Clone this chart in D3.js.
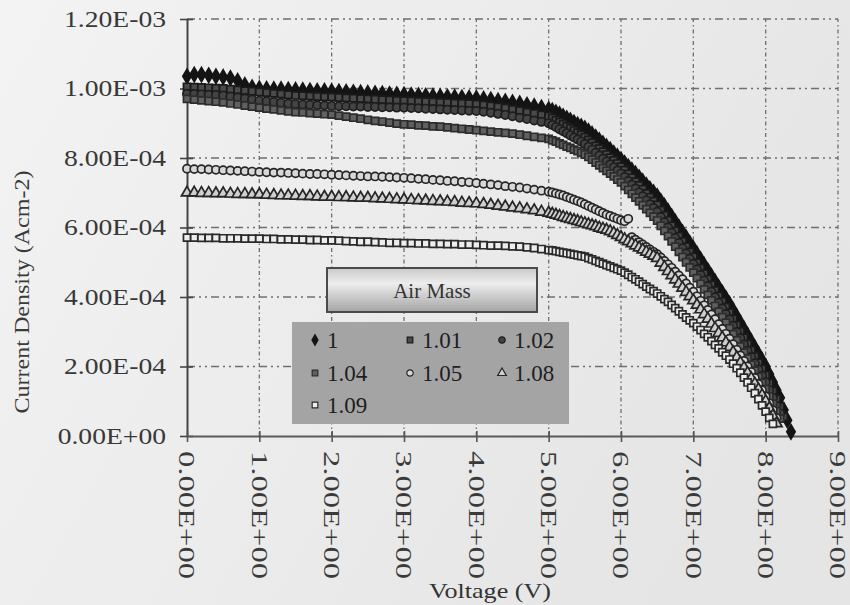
<!DOCTYPE html>
<html>
<head>
<meta charset="utf-8">
<script src="https://cdn.jsdelivr.net/npm/d3@7"></script>
<style>
  html, body { margin: 0; padding: 0; background: #ececec; }
  svg { display: block; font-family: "Liberation Serif", "Times New Roman", serif; }
</style>
</head>
<body>
<div id="chart"></div>
<script>
// voltage samples (V), shared by every series
var voltage = [
  0.0, 0.1, 0.2, 0.3, 0.4, 0.5, 0.6, 0.7, 0.8, 0.9,
  1.0, 1.1, 1.2, 1.3, 1.4, 1.5, 1.6, 1.7, 1.8, 1.9,
  2.0, 2.1, 2.2, 2.3, 2.4, 2.5, 2.6, 2.7, 2.8, 2.9,
  3.0, 3.1, 3.2, 3.3, 3.4, 3.5, 3.6, 3.7, 3.8, 3.9,
  4.0, 4.1, 4.2, 4.3, 4.4, 4.5, 4.6, 4.7, 4.8, 4.9,
  5.0,
  5.05, 5.10, 5.15, 5.20, 5.25, 5.30, 5.35, 5.40, 5.45, 5.50,
  5.55, 5.60, 5.65, 5.70, 5.75, 5.80, 5.85, 5.90, 5.95, 6.00,
  6.05, 6.10, 6.15, 6.20, 6.25, 6.30, 6.35, 6.40, 6.45, 6.50,
  6.55, 6.60, 6.65, 6.70, 6.75, 6.80, 6.85, 6.90, 6.95, 7.00,
  7.05, 7.10, 7.15, 7.20, 7.25, 7.30, 7.35, 7.40, 7.45, 7.50,
  7.55, 7.60, 7.65, 7.70, 7.75, 7.80, 7.85, 7.90, 7.95, 8.00,
  8.05, 8.10, 8.15, 8.20, 8.25, 8.30, 8.35
];

// current density, in units of 1E-04 A/cm2
var am100 = [
  10.35, 10.40, 10.40, 10.38, 10.35, 10.33, 10.30, 10.22, 10.10, 10.03,
  10.00, 9.99, 9.98, 9.98, 9.97, 9.96, 9.95, 9.94, 9.93, 9.93,
  9.92, 9.91, 9.90, 9.89, 9.88, 9.87, 9.86, 9.85, 9.84, 9.83,
  9.82, 9.81, 9.80, 9.79, 9.78, 9.77, 9.76, 9.75, 9.74, 9.73,
  9.72, 9.70, 9.68, 9.65, 9.63, 9.60, 9.57, 9.53, 9.49, 9.45,
  9.40,
  9.36, 9.31, 9.26, 9.20, 9.14, 9.08, 9.02, 8.96, 8.91, 8.85,
  8.77, 8.69, 8.60, 8.51, 8.42, 8.33, 8.24, 8.14, 8.05, 7.95,
  7.85, 7.75, 7.65, 7.55, 7.44, 7.33, 7.22, 7.11, 7.01, 6.90,
  6.76, 6.62, 6.47, 6.32, 6.16, 6.01, 5.86, 5.71, 5.55, 5.40,
  5.24, 5.08, 4.92, 4.76, 4.60, 4.44, 4.28, 4.12, 3.96, 3.80,
  3.62, 3.44, 3.26, 3.08, 2.90, 2.72, 2.54, 2.36, 2.18, 2.00,
  1.78, 1.55, 1.32, 1.10, 0.75, 0.45, 0.12
];
var am101 = [
  10.05, 10.04, 10.03, 10.02, 10.01, 10.00, 9.98, 9.96, 9.94, 9.92,
  9.90, 9.88, 9.86, 9.84, 9.82, 9.80, 9.79, 9.78, 9.77, 9.76,
  9.75, 9.74, 9.73, 9.72, 9.71, 9.70, 9.69, 9.68, 9.67, 9.66,
  9.65, 9.64, 9.63, 9.62, 9.61, 9.60, 9.59, 9.58, 9.57, 9.56,
  9.55, 9.53, 9.50, 9.47, 9.44, 9.40, 9.36, 9.32, 9.28, 9.24,
  9.20,
  9.15, 9.09, 9.03, 8.97, 8.91, 8.85, 8.79, 8.73, 8.67, 8.60,
  8.52, 8.44, 8.35, 8.27, 8.18, 8.10, 8.01, 7.93, 7.84, 7.75,
  7.65, 7.54, 7.43, 7.32, 7.21, 7.10, 6.98, 6.87, 6.76, 6.65,
  6.50, 6.35, 6.20, 6.05, 5.90, 5.75, 5.60, 5.45, 5.30, 5.15,
  4.99, 4.83, 4.67, 4.51, 4.35, 4.19, 4.03, 3.87, 3.71, 3.55,
  3.37, 3.19, 3.01, 2.83, 2.65, 2.47, 2.29, 2.11, 1.93, 1.75,
  1.52, 1.30, 1.07, 0.85, 0.55
];
var am102 = [
  9.85, 9.84, 9.83, 9.82, 9.81, 9.80, 9.77, 9.74, 9.71, 9.68,
  9.65, 9.63, 9.61, 9.59, 9.57, 9.55, 9.54, 9.53, 9.52, 9.51,
  9.50, 9.49, 9.49, 9.48, 9.48, 9.47, 9.47, 9.46, 9.46, 9.45,
  9.45, 9.44, 9.43, 9.42, 9.41, 9.40, 9.39, 9.38, 9.37, 9.36,
  9.35, 9.33, 9.30, 9.27, 9.24, 9.20, 9.16, 9.12, 9.08, 9.04,
  9.00,
  8.95, 8.89, 8.83, 8.77, 8.71, 8.65, 8.59, 8.53, 8.47, 8.40,
  8.32, 8.24, 8.15, 8.07, 7.98, 7.90, 7.81, 7.73, 7.64, 7.55,
  7.45, 7.34, 7.23, 7.12, 7.01, 6.90, 6.78, 6.67, 6.56, 6.45,
  6.30, 6.15, 6.00, 5.85, 5.70, 5.55, 5.40, 5.25, 5.10, 4.95,
  4.79, 4.63, 4.47, 4.31, 4.15, 3.99, 3.83, 3.67, 3.51, 3.35,
  3.17, 2.99, 2.81, 2.63, 2.45, 2.27, 2.09, 1.91, 1.73, 1.55,
  1.32, 1.10, 0.87, 0.65
];
var am104 = [
  9.70, 9.68, 9.66, 9.64, 9.62, 9.60, 9.57, 9.54, 9.51, 9.48,
  9.45, 9.42, 9.40, 9.37, 9.34, 9.32, 9.31, 9.29, 9.28, 9.26,
  9.25, 9.22, 9.19, 9.16, 9.13, 9.10, 9.07, 9.05, 9.02, 8.99,
  8.97, 8.96, 8.94, 8.93, 8.91, 8.90, 8.88, 8.86, 8.84, 8.82,
  8.80, 8.78, 8.76, 8.74, 8.72, 8.70, 8.67, 8.64, 8.61, 8.58,
  8.55,
  8.51, 8.47, 8.42, 8.38, 8.33, 8.29, 8.24, 8.20, 8.15, 8.10,
  8.03, 7.95, 7.87, 7.79, 7.71, 7.63, 7.55, 7.47, 7.38, 7.30,
  7.19, 7.08, 6.97, 6.86, 6.75, 6.64, 6.53, 6.42, 6.31, 6.20,
  6.05, 5.90, 5.75, 5.60, 5.45, 5.30, 5.15, 5.00, 4.85, 4.70,
  4.54, 4.38, 4.22, 4.06, 3.90, 3.74, 3.58, 3.42, 3.26, 3.10,
  2.93, 2.75, 2.58, 2.40, 2.23, 2.05, 1.88, 1.70, 1.53, 1.35,
  1.14, 0.93, 0.71, 0.50
];
var am105 = [
  7.69, 7.68, 7.68, 7.67, 7.66, 7.65, 7.64, 7.63, 7.62, 7.61,
  7.60, 7.59, 7.58, 7.58, 7.57, 7.56, 7.55, 7.54, 7.54, 7.53,
  7.52, 7.51, 7.50, 7.49, 7.48, 7.47, 7.47, 7.46, 7.45, 7.44,
  7.43, 7.42, 7.40, 7.39, 7.37, 7.36, 7.34, 7.33, 7.31, 7.30,
  7.28, 7.26, 7.24, 7.22, 7.19, 7.17, 7.15, 7.12, 7.09, 7.06,
  7.03,
  7.01, 6.98, 6.95, 6.92, 6.88, 6.84, 6.80, 6.76, 6.72, 6.67,
  6.62, 6.57, 6.52, 6.47, 6.42, 6.37, 6.33, 6.29, 6.25, 6.21,
  6.18, 6.25, 5.72, 5.65, 5.58, 5.51, 5.44, 5.37, 5.30, 5.23,
  5.14, 5.04, 4.94, 4.84, 4.73, 4.62, 4.51, 4.39, 4.27, 4.15,
  4.02, 3.89, 3.76, 3.63, 3.50, 3.36, 3.22, 3.08, 2.94, 2.80,
  2.64, 2.48, 2.32, 2.16, 2.00, 1.84, 1.67, 1.50, 1.32, 1.14,
  0.94, 0.74, 0.52
];
var am108 = [
  7.00, 7.00, 6.99, 6.99, 6.98, 6.98, 6.97, 6.96, 6.96, 6.95,
  6.95, 6.94, 6.93, 6.92, 6.92, 6.91, 6.90, 6.90, 6.89, 6.88,
  6.88, 6.87, 6.87, 6.86, 6.85, 6.85, 6.84, 6.83, 6.82, 6.81,
  6.80, 6.79, 6.78, 6.77, 6.76, 6.75, 6.74, 6.73, 6.71, 6.70,
  6.69, 6.67, 6.65, 6.62, 6.60, 6.57, 6.55, 6.52, 6.49, 6.45,
  6.42,
  6.39, 6.36, 6.33, 6.30, 6.27, 6.24, 6.21, 6.18, 6.15, 6.12,
  6.09, 6.06, 6.03, 5.99, 5.96, 5.93, 5.89, 5.84, 5.78, 5.72,
  5.66, 5.60, 5.54, 5.48, 5.42, 5.36, 5.30, 5.24, 5.18, 5.12,
  4.98, 4.86, 4.74, 4.62, 4.50, 4.38, 4.26, 4.14, 4.02, 3.90,
  3.77, 3.64, 3.50, 3.37, 3.23, 3.10, 2.96, 2.83, 2.69, 2.56,
  2.41, 2.26, 2.11, 1.96, 1.81, 1.66, 1.50, 1.34, 1.17, 1.00,
  0.80, 0.58, 0.36
];
var am109 = [
  5.71, 5.71, 5.70, 5.70, 5.70, 5.69, 5.69, 5.69, 5.68, 5.68,
  5.68, 5.67, 5.67, 5.66, 5.66, 5.65, 5.65, 5.64, 5.64, 5.63,
  5.63, 5.62, 5.61, 5.60, 5.59, 5.59, 5.58, 5.57, 5.56, 5.56,
  5.55, 5.55, 5.54, 5.54, 5.53, 5.53, 5.52, 5.52, 5.51, 5.51,
  5.50, 5.49, 5.48, 5.48, 5.47, 5.46, 5.45, 5.43, 5.41, 5.38,
  5.35,
  5.34, 5.32, 5.30, 5.28, 5.26, 5.24, 5.22, 5.20, 5.18, 5.16,
  5.12, 5.08, 5.04, 5.00, 4.96, 4.92, 4.88, 4.84, 4.80, 4.76,
  4.70, 4.64, 4.57, 4.51, 4.44, 4.37, 4.30, 4.23, 4.17, 4.10,
  4.02, 3.94, 3.86, 3.77, 3.68, 3.59, 3.50, 3.41, 3.33, 3.25,
  3.15, 3.05, 2.94, 2.84, 2.73, 2.62, 2.52, 2.41, 2.31, 2.20,
  2.08, 1.95, 1.82, 1.68, 1.54, 1.39, 1.23, 1.06, 0.88, 0.70,
  0.52, 0.35
];

var seriesNames = ["1", "1.01", "1.02", "1.04", "1.05", "1.08", "1.09"];
var seriesValues = [am100, am101, am102, am104, am105, am108, am109];

var xTicks = [0, 1, 2, 3, 4, 5, 6, 7, 8, 9];
var xTickLabels = ["0.00E+00", "1.00E+00", "2.00E+00", "3.00E+00", "4.00E+00",
                   "5.00E+00", "6.00E+00", "7.00E+00", "8.00E+00", "9.00E+00"];
var yTicks = [0, 2, 4, 6, 8, 10, 12];
var yTickLabels = ["0.00E+00", "2.00E-04", "4.00E-04", "6.00E-04", "8.00E-04", "1.00E-03", "1.20E-03"];

// marker look per series
var markers = [
    {shape: d3.symbolDiamond,  size: 60, fill: "#141414", stroke: "#141414"},
    {shape: d3.symbolSquare,   size: 50, fill: "#4a4a4a", stroke: "#1a1a1a"},
    {shape: d3.symbolCircle,   size: 54, fill: "#444444", stroke: "#1e1e1e"},
    {shape: d3.symbolSquare,   size: 50, fill: "#606060", stroke: "#2c2c2c"},
    {shape: d3.symbolCircle,   size: 52, fill: "#d8d8d8", stroke: "#262626"},
    {shape: d3.symbolTriangle, size: 54, fill: "#cfcfcf", stroke: "#262626"},
    {shape: d3.symbolSquare,   size: 50, fill: "#ededed", stroke: "#2a2a2a"}
];

var width = 850, height = 605;

var svg = d3.select("#chart")
    .append("svg")
    .attr("width", width)
    .attr("height", height);

var defs = svg.append("defs");
var paper = defs.append("linearGradient").attr("id", "paper")
    .attr("x1", "0").attr("y1", "0").attr("x2", "1").attr("y2", "0.4");
paper.append("stop").attr("offset", "0%").attr("stop-color", "#f3f3f3");
paper.append("stop").attr("offset", "100%").attr("stop-color", "#e5e5e5");

var button = defs.append("linearGradient").attr("id", "button")
    .attr("x1", "0").attr("y1", "0").attr("x2", "0").attr("y2", "1");
button.append("stop").attr("offset", "0%").attr("stop-color", "#c9c9c9");
button.append("stop").attr("offset", "35%").attr("stop-color", "#ededed");
button.append("stop").attr("offset", "100%").attr("stop-color", "#a4a4a4");

svg.append("rect")
    .attr("width", width)
    .attr("height", height)
    .attr("fill", "url(#paper)");

var x = d3.scaleLinear().domain([0, 9]).range([187, 838]);
var y = d3.scaleLinear().domain([0, 12]).range([436, 19]);

// dash-dot gridlines
svg.append("g")
    .selectAll("line")
    .data(yTicks.slice(1))
    .join("line")
    .attr("x1", x(0)).attr("x2", x(9))
    .attr("y1", (d) => y(d)).attr("y2", (d) => y(d))
    .attr("stroke", "#6f6f6f")
    .attr("stroke-width", 1.3)
    .attr("stroke-dasharray", "8,4,2,4,2,4");

svg.append("g")
    .selectAll("line")
    .data(xTicks.slice(1))
    .join("line")
    .attr("x1", (d) => x(d)).attr("x2", (d) => x(d))
    .attr("y1", y(0)).attr("y2", y(12))
    .attr("stroke", "#6f6f6f")
    .attr("stroke-width", 1.3)
    .attr("stroke-dasharray", "4,3,1.5,3");

// axes
var yAxis = svg.append("g")
    .attr("transform", "translate(" + x(0) + ",0)")
    .call(d3.axisLeft(y).tickValues(yTicks).tickFormat("").tickSizeInner(7).tickSizeOuter(0));
yAxis.selectAll(".tick line").attr("x1", 6).attr("stroke", "#444").attr("stroke-width", 1.6);
yAxis.select(".domain").attr("stroke", "#444").attr("stroke-width", 2);

var xAxis = svg.append("g")
    .attr("transform", "translate(0," + y(0) + ")")
    .call(d3.axisBottom(x).tickValues(xTicks).tickFormat("").tickSizeInner(6).tickSizeOuter(0));
xAxis.selectAll(".tick line").attr("y1", -5).attr("stroke", "#555").attr("stroke-width", 1.6);
xAxis.select(".domain").attr("stroke", "#5a5a5a").attr("stroke-width", 2.2);

// tick labels (the scanned text is wider than plain Times)
svg.append("g")
    .selectAll("text")
    .data(yTicks)
    .join("text")
    .attr("y", (d) => y(d) + 7.5)
    .attr("font-size", 23)
    .attr("fill", "#383838")
    .text((d, i) => yTickLabels[i])
    .each(function () {
        var len = this.getComputedTextLength() * 1.2;
        d3.select(this)
            .attr("textLength", len)
            .attr("lengthAdjust", "spacingAndGlyphs")
            .attr("x", 166 - len);
    });

svg.append("g")
    .selectAll("text")
    .data(xTicks)
    .join("text")
    .attr("transform", (d) => "translate(" + x(d) + ",451) rotate(90)")
    .attr("dy", "0.34em")
    .attr("font-size", 23)
    .attr("fill", "#3a3a3a")
    .text((d, i) => xTickLabels[i])
    .each(function () {
        var len = this.getComputedTextLength() * 1.42;
        d3.select(this).attr("textLength", len).attr("lengthAdjust", "spacingAndGlyphs");
    });

// axis titles
svg.append("text")
    .attr("transform", "translate(29,292) rotate(-90)")
    .attr("text-anchor", "middle")
    .attr("font-size", 22)
    .attr("fill", "#3a3a3a")
    .attr("textLength", 243)
    .attr("lengthAdjust", "spacingAndGlyphs")
    .text("Current Density (Acm-2)");

svg.append("text")
    .attr("x", 490)
    .attr("y", 598)
    .attr("text-anchor", "middle")
    .attr("font-size", 22)
    .attr("fill", "#333")
    .attr("textLength", 122)
    .attr("lengthAdjust", "spacingAndGlyphs")
    .text("Voltage (V)");

// data markers, first series drawn first
seriesValues.forEach(function (vals, s) {
    var m = markers[s];
    var sym = d3.symbol().type(m.shape).size(m.size);
    svg.append("g")
        .selectAll("path")
        .data(vals.map((j, i) => [voltage[i], j]))
        .join("path")
        .attr("transform", (d) => "translate(" + x(d[0]) + "," + y(d[1]) + ")")
        .attr("d", sym)
        .attr("fill", m.fill)
        .attr("stroke", m.stroke)
        .attr("stroke-width", 1.7);
});

// legend
var legendTitle = svg.append("g");
legendTitle.append("rect")
    .attr("x", 327).attr("y", 268)
    .attr("width", 210).attr("height", 44)
    .attr("fill", "url(#button)")
    .attr("stroke", "#4a4a4a")
    .attr("stroke-width", 2);
legendTitle.append("text")
    .attr("x", 432).attr("y", 298)
    .attr("text-anchor", "middle")
    .attr("font-size", 21)
    .attr("fill", "#333")
    .text("Air Mass");

svg.append("rect")
    .attr("x", 292).attr("y", 322)
    .attr("width", 277).attr("height", 102)
    .attr("fill", "#a4a4a4");

var colX = [315, 410, 502];
var rowY = [340, 373, 405];
var legend = svg.append("g")
    .selectAll("g")
    .data(seriesNames)
    .join("g")
    .attr("transform", (d, i) => "translate(" + colX[i % 3] + "," + rowY[Math.floor(i / 3)] + ")");

legend.append("path")
    .attr("d", (d, i) => d3.symbol().type(markers[i].shape).size(32)())
    .attr("fill", (d, i) => markers[i].fill)
    .attr("stroke", (d, i) => markers[i].stroke)
    .attr("stroke-width", 1.2);

legend.append("text")
    .attr("x", 12)
    .attr("y", 8)
    .attr("font-size", 23)
    .attr("fill", "#1e1e1e")
    .text((d) => d);
</script>
</body>
</html>
